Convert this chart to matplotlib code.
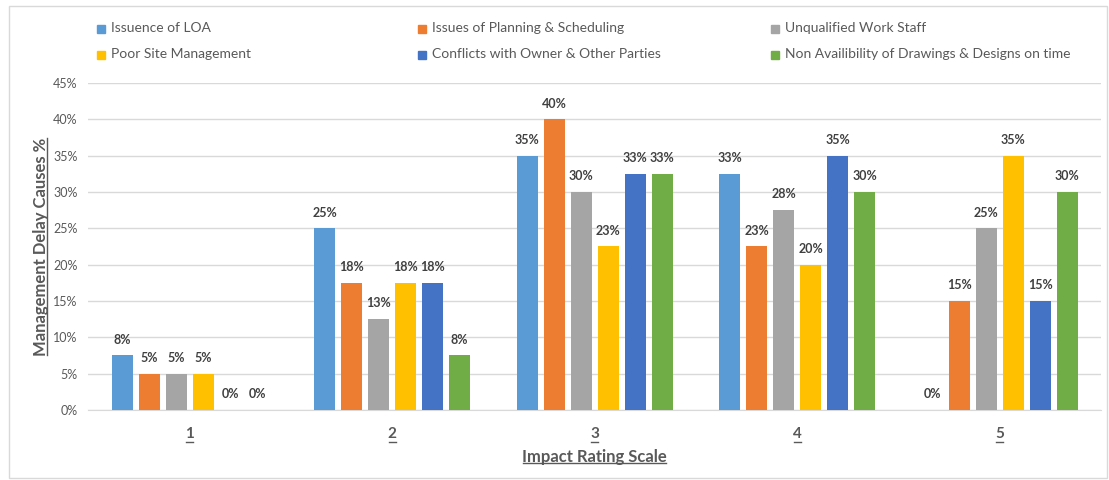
import matplotlib
matplotlib.use("Agg")
import matplotlib.pyplot as plt
import numpy as np
from matplotlib.patches import Rectangle
from matplotlib.lines import Line2D

categories = ["1", "2", "3", "4", "5"]
series_names = [
    "Issuence of LOA",
    "Issues of Planning & Scheduling",
    "Unqualified Work Staff",
    "Poor Site Management",
    "Conflicts with Owner & Other Parties",
    "Non Availibility of Drawings & Designs on time",
]
issuence_loa = [7.5, 25, 35, 32.5, 0]
planning_scheduling = [5, 17.5, 40, 22.5, 15]
unqualified_staff = [5, 12.5, 30, 27.5, 25]
poor_site_mgmt = [5, 17.5, 22.5, 20, 35]
conflicts_owner = [0, 17.5, 32.5, 35, 15]
non_availability = [0, 7.5, 32.5, 30, 30]
series_values = [issuence_loa, planning_scheduling, unqualified_staff,
                 poor_site_mgmt, conflicts_owner, non_availability]
colors = ["#5B9BD5", "#ED7D31", "#A5A5A5", "#FFC000", "#4472C4", "#70AD47"]
yticks = [0, 5, 10, 15, 20, 25, 30, 35, 40, 45]

plt.rcParams['font.family'] = ['Lato', 'DejaVu Sans']
txt = "#595959"

fig = plt.figure(figsize=(11.09, 4.8), dpi=100)
ax = fig.add_axes([0.0798, 0.146, 0.9130, 0.681])

x = np.arange(len(categories))
pitch = 0.1333
width = 0.104
for i, (vals, col) in enumerate(zip(series_values, colors)):
    pos = x + (i - 2.5) * pitch
    ax.bar(pos, vals, width=width, color=col, zorder=3)
    for px, v in zip(pos, vals):
        ax.annotate(f"{int(v + 0.5)}%", (px, v), xytext=(0, 7), textcoords="offset points",
                    ha="center", va="bottom", fontsize=9, fontweight="bold", color="#404040")

ax.set_xlim(-0.5, 4.5)
ax.set_ylim(0, 45)
ax.set_yticks(yticks)
ax.set_yticklabels([f"{t}%" for t in yticks], color=txt, fontsize=9)
ax.yaxis.grid(True, color="#D9D9D9", linewidth=1, zorder=0)
ax.set_xticks(x)
ax.set_xticklabels(categories, color=txt, fontsize=11, fontweight="bold")
ax.tick_params(axis="both", length=0)
ax.tick_params(axis="x", pad=12)
ax.tick_params(axis="y", pad=8)
for s in ["top", "right", "left"]:
    ax.spines[s].set_visible(False)
ax.spines["bottom"].set_color("#D9D9D9")
ax.set_axisbelow(True)

ylab = ax.set_ylabel("Management Delay Causes %", color=txt, fontsize=12, fontweight="bold", labelpad=3)
xlab = ax.set_xlabel("Impact Rating Scale", color=txt, fontsize=12, fontweight="bold", labelpad=6)

# Legend drawn manually (3 columns x 2 rows, row-major)
leg_cols = [0.0875, 0.377, 0.695]
leg_rows = [0.941, 0.887]
for k, (name, col) in enumerate(zip(series_names, colors)):
    r, c = divmod(k, 3)
    lx, ly = leg_cols[c], leg_rows[r]
    fig.patches.append(Rectangle((lx, ly - 0.009), 0.0072, 0.0167, transform=fig.transFigure,
                                 color=col, figure=fig))
    fig.text(lx + 0.0125, ly, name, fontsize=10, color=txt, va="center", ha="left")

# Outer frame
fig.patches.append(Rectangle((0.008, 0.004), 0.99, 0.983, transform=fig.transFigure,
                             fill=False, edgecolor="#D9D9D9", linewidth=1, figure=fig))

# Underlines
fig.canvas.draw()
renderer = fig.canvas.get_renderer()
W, H = fig.bbox.width, fig.bbox.height
def underline(t, vertical=False, inset=1):
    bb = t.get_window_extent(renderer)
    if vertical:
        xx = bb.x1 - inset
        fig.add_artist(Line2D([xx / W, xx / W], [(bb.y0 + 1) / H, (bb.y1 - 1) / H],
                              color=txt, linewidth=1, transform=fig.transFigure))
    else:
        yy = bb.y0 + inset
        fig.add_artist(Line2D([(bb.x0 + 1) / W, (bb.x1 - 1) / W], [yy / H, yy / H],
                              color=txt, linewidth=1, transform=fig.transFigure))
for t in ax.get_xticklabels():
    underline(t, inset=-1)
underline(xlab, inset=2)
underline(ylab, vertical=True, inset=2)

fig.savefig("out.png", dpi=100)
